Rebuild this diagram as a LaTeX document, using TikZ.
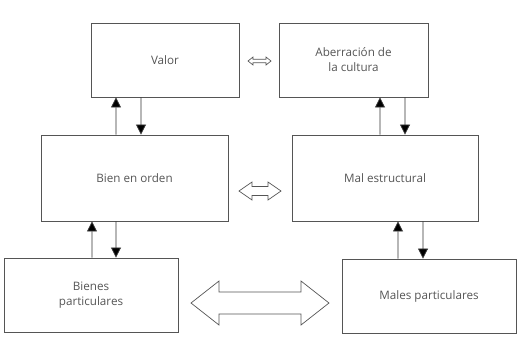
\documentclass[tikz,border=0pt]{standalone}
\usepackage{fontspec}
\setmainfont{Open Sans}
\usetikzlibrary{arrows.meta}
\definecolor{boxc}{HTML}{555555}
\definecolor{txtc}{HTML}{555555}
\tikzset{
  box/.style={draw=boxc, line width=0.9bp, rectangle, align=center, text=txtc,
    font=\fontsize{11.7}{15}\selectfont, inner sep=0pt},
  arr/.style={draw=black!80, line width=0.8bp, -{Triangle[length=10bp,width=10bp,fill=black]}},
  hollow/.style={draw=boxc, line width=0.7bp, fill=white, line join=miter},
}
\begin{document}
\begin{tikzpicture}[x=1bp,y=-1bp]
\useasboundingbox (0,0) rectangle (520,340);
\node[box, minimum width=148bp, minimum height=74bp] (valor) at (165,60) {Valor};
\node[box, minimum width=149bp, minimum height=74bp] (aber) at (353.5,60) {Aberración de\\la cultura};
\node[box, minimum width=187bp, minimum height=86bp] (bien) at (134.5,178) {Bien en orden};
\node[box, minimum width=186bp, minimum height=86bp] (mal) at (385,178) {Mal estructural};
\node[box, minimum width=174bp, minimum height=74bp] (bienes) at (91,295) {Bienes\\particulares};
\node[box, minimum width=174bp, minimum height=74bp] (males) at (429,296) {Males particulares};
% vertical connectors
\draw[arr] ([xshift=-18.5bp]bien.north) -- ([xshift=-49bp]valor.south);
\draw[arr] ([xshift=-24bp]valor.south) -- ([xshift=6.5bp]bien.north);
\draw[arr] ([xshift=-5bp]mal.north) -- ([xshift=26.5bp]aber.south);
\draw[arr] ([xshift=51.5bp]aber.south) -- ([xshift=20bp]mal.north);
\draw[arr] ([xshift=1bp]bienes.north) -- ([xshift=-42.5bp]bien.south);
\draw[arr] ([xshift=-18.5bp]bien.south) -- ([xshift=25bp]bienes.north);
\draw[arr] ([xshift=-31bp]males.north) -- ([xshift=13bp]mal.south);
\draw[arr] ([xshift=38bp]mal.south) -- ([xshift=-6bp]males.north);
% hollow double arrows
\draw[hollow] (248,61) -- (253,57) -- (253,59.3) -- (266,59.3) -- (266,57) -- (271,61)
  -- (266,65) -- (266,62.7) -- (253,62.7) -- (253,65) -- cycle;
\draw[hollow] (239,191) -- (252,182) -- (252,186.5) -- (268,186.5) -- (268,182) -- (281,191)
  -- (268,200) -- (268,195.5) -- (252,195.5) -- (252,200) -- cycle;
\draw[hollow] (191,303) -- (219,281) -- (219,292) -- (301,292) -- (301,281) -- (329,303)
  -- (301,325) -- (301,314) -- (219,314) -- (219,325) -- cycle;
\end{tikzpicture}
\end{document}
